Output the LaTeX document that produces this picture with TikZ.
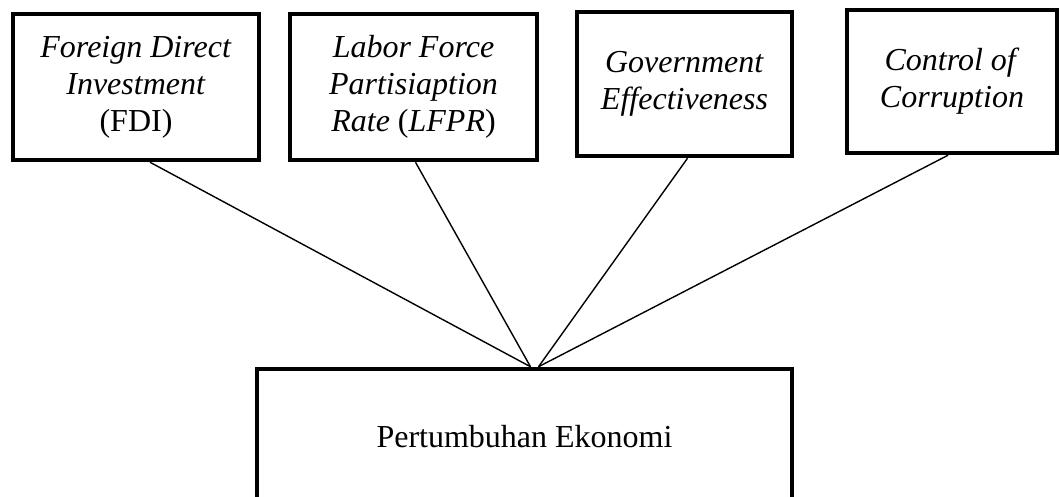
\documentclass[tikz,border=0pt]{standalone}
\usepackage{fontspec}
\setmainfont{Liberation Serif}
\tikzset{
  varbox/.style={draw, line width=4.5pt, inner sep=0pt, align=center,
    font=\fontsize{32}{37}\selectfont},
  link/.style={line width=1.4pt},
}
\begin{document}
\begin{tikzpicture}[x=1pt, y=-1pt]
\useasboundingbox (0,0) rectangle (1060,497);
% independent variables
\node[varbox, minimum width=246pt, minimum height=146pt] (fdi) at (136,87)
  {\textit{Foreign Direct}\\\textit{Investment}\\(FDI)};
\node[varbox, minimum width=247pt, minimum height=146pt] (lfpr) at (413.5,87)
  {\textit{Labor Force}\\\textit{Partisiaption}\\\textit{Rate} (\textit{LFPR})};
\node[varbox, minimum width=215pt, minimum height=144pt] (ge) at (684.5,84)
  {\textit{Government}\\\textit{Effectiveness}};
\node[varbox, minimum width=210pt, minimum height=143pt] (cc) at (952,81.5)
  {\textit{Control of}\\\textit{Corruption}};
% dependent variable
\node[varbox, minimum width=535pt, minimum height=136pt] (eko) at (524.5,437)
  {Pertumbuhan Ekonomi};
\draw[link] ([xshift=14pt]fdi.south) -- ([xshift=6pt]eko.north);
\draw[link] ([xshift=2pt]lfpr.south) -- ([xshift=6pt]eko.north);
\draw[link] ([xshift=3pt]ge.south) -- ([xshift=14pt]eko.north);
\draw[link] ([xshift=-4pt]cc.south) -- ([xshift=14pt]eko.north);
\end{tikzpicture}
\end{document}
